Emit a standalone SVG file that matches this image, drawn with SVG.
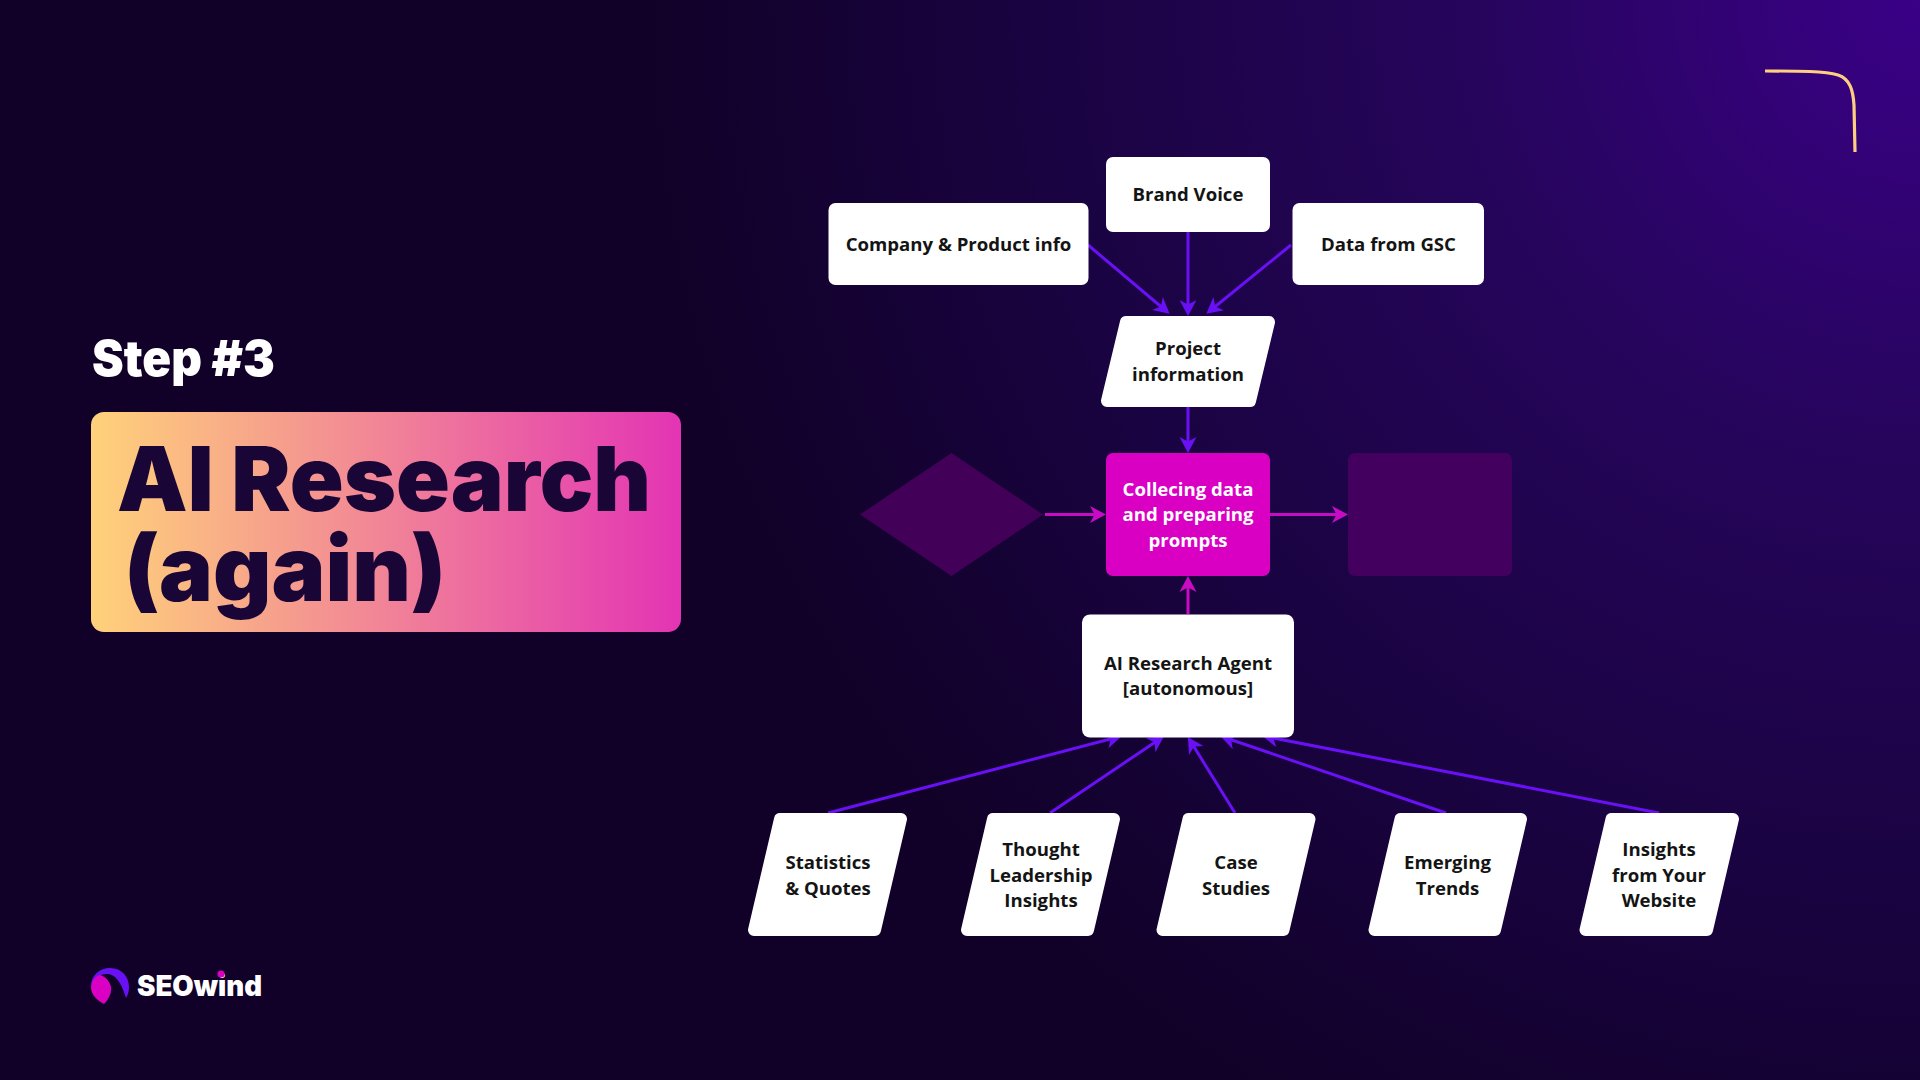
<svg xmlns="http://www.w3.org/2000/svg" width="1920" height="1080" viewBox="0 0 1920 1080">
<defs>
<radialGradient id="bg" gradientUnits="userSpaceOnUse" cx="1920" cy="0" r="1500">
<stop offset="0" stop-color="#3a0087"/>
<stop offset="0.3" stop-color="#26055c"/>
<stop offset="0.6" stop-color="#190340"/>
<stop offset="0.85" stop-color="#110128"/>
<stop offset="1" stop-color="#110128"/>
</radialGradient>
<linearGradient id="title" x1="0" y1="0" x2="1" y2="0">
<stop offset="0" stop-color="#ffd27a"/>
<stop offset="1" stop-color="#e334b4"/>
</linearGradient>
<marker id="ah" markerUnits="userSpaceOnUse" markerWidth="18" markerHeight="18" refX="10" refY="9" orient="auto">
<path d="M0,0.5 L16,9 L0,17.5 L4.500,9 Z" fill="#6a10f5"/>
</marker>
<marker id="am" markerUnits="userSpaceOnUse" markerWidth="18" markerHeight="18" refX="10" refY="9" orient="auto">
<path d="M0,0.5 L16,9 L0,17.5 L4.500,9 Z" fill="#c80cc4"/>
</marker>
</defs>
<style>
.box{fill:#fff}
.par{fill:#fff;stroke:#fff;stroke-width:12;stroke-linejoin:round}
.t{font-family:"Open Sans","Noto Sans",sans-serif;font-weight:700;font-size:18.6px;fill:#141414;text-anchor:middle}
.w{fill:#fff}
.dim{fill:#420058}
.cb{fill:none;stroke:#6a10f5;stroke-width:3;marker-end:url(#ah)}
.cm{fill:none;stroke:#c80cc4;stroke-width:3;marker-end:url(#am)}
.h{font-family:Inter,"Noto Sans",sans-serif;font-weight:900}
</style>
<rect width="1920" height="1080" fill="url(#bg)"/>
<path d="M1765 71 C1800 71 1825 71 1838 75 C1850 79 1853 90 1854 105 L1855 152" fill="none" stroke="#ffcf80" stroke-width="3.2"/>

<text class="h" x="92" y="376" font-size="50" font-weight="700" fill="#fff" textLength="183" lengthAdjust="spacingAndGlyphs">Step #3</text>
<g id="title-block">
<rect x="91" y="412" width="590" height="220" rx="13" fill="url(#title)"/>
<text class="h" x="117" y="511" font-size="90" fill="#1a0636" textLength="534" lengthAdjust="spacingAndGlyphs">AI Research</text>
<text class="h" x="124" y="601" font-size="90" fill="#1a0636" textLength="322" lengthAdjust="spacingAndGlyphs">(again)</text>
</g>

<g id="logo">
<path d="M91 986 C91 975 100 968 110 968 C122 968 129 977 129 987 C129 991 128 995 126 998 C123 988 118 975 108 974 C100 973 93 979 91 986 Z" fill="#6a10f5"/>
<path d="M100 975 C95 976 91 982 91 988 C91 995 98 1001 104 1004 C110 998 113 990 110 984 C108 979 104 976 100 975 Z" fill="#d900c4"/>
<text class="h" x="137" y="996" font-size="28" fill="#fff" textLength="125" lengthAdjust="spacingAndGlyphs">SEOwind</text>
<circle cx="221" cy="974" r="3.6" fill="#d900c4"/>
</g>

<g id="connectors">
<line class="cb" x1="1088" y1="245" x2="1165" y2="310"/>
<line class="cb" x1="1188" y1="232" x2="1188" y2="310"/>
<line class="cb" x1="1291" y1="245" x2="1211" y2="310"/>
<line class="cb" x1="1188" y1="407" x2="1188" y2="447"/>
<line class="cm" x1="1045" y1="514.5" x2="1100" y2="514.5"/>
<line class="cm" x1="1270" y1="514.5" x2="1342" y2="514.5"/>
<line class="cm" x1="1188" y1="614" x2="1188" y2="582"/>
<line class="cb" x1="828" y1="813" x2="1116" y2="737.5"/>
<line class="cb" x1="1050" y1="813" x2="1159" y2="739.500"/>
<line class="cb" x1="1235" y1="813" x2="1191" y2="742"/>
<line class="cb" x1="1446" y1="813" x2="1226" y2="738"/>
<line class="cb" x1="1659" y1="813" x2="1268" y2="737"/>
</g>

<g id="brand-voice"><rect class="box" x="1106" y="157" width="164" height="75" rx="7"/><text class="t" x="1188" y="201">Brand Voice</text></g>
<g id="company"><rect class="box" x="828.5" y="203" width="260" height="82" rx="7"/><text class="t" x="958.500" y="250.500">Company &amp; Product info</text></g>
<g id="gsc"><rect class="box" x="1292.500" y="203" width="191.500" height="82" rx="7"/><text class="t" x="1388.500" y="250.500">Data from GSC</text></g>
<g id="project"><polygon class="par" points="1126,322 1269,322 1250,401 1107,401"/><text class="t" x="1188" y="355">Project</text><text class="t" x="1188" y="380.500">information</text></g>
<g id="diamond"><polygon class="dim" points="860,514.500 951.500,453 1043,514.500 951.500,576"/></g>
<g id="collecting"><rect x="1106" y="453" width="164" height="123" rx="7" fill="#d900c4"/><text class="t w" x="1188" y="495.500">Collecing data</text><text class="t w" x="1188" y="521">and preparing</text><text class="t w" x="1188" y="546.500">prompts</text></g>
<g id="output"><rect x="1348" y="453" width="164" height="123" rx="7" fill="#44005f"/></g>
<g id="agent"><rect class="box" x="1082" y="614.500" width="212" height="123" rx="8"/><text class="t" x="1188" y="669.500">AI Research Agent</text><text class="t" x="1188" y="695">[autonomous]</text></g>
<g id="statistics"><polygon class="par" points="780,819 901,819 875,930 754,930"/><text class="t" x="828" y="869">Statistics</text><text class="t" x="828" y="894.500">&amp; Quotes</text></g>
<g id="thought"><polygon class="par" points="993,819 1114,819 1088,930 967,930"/><text class="t" x="1041" y="856">Thought</text><text class="t" x="1041" y="881.500">Leadership</text><text class="t" x="1041" y="907">Insights</text></g>
<g id="case"><polygon class="par" points="1188.500,819 1309.500,819 1283.500,930 1162.500,930"/><text class="t" x="1236" y="869">Case</text><text class="t" x="1236" y="894.500">Studies</text></g>
<g id="emerging"><polygon class="par" points="1400.500,819 1521,819 1495,930 1374.500,930"/><text class="t" x="1447.500" y="869">Emerging</text><text class="t" x="1447.500" y="894.500">Trends</text></g>
<g id="insights"><polygon class="par" points="1611.500,819 1733,819 1707,930 1585.500,930"/><text class="t" x="1659" y="856">Insights</text><text class="t" x="1659" y="881.500">from Your</text><text class="t" x="1659" y="907">Website</text></g>
</svg>
